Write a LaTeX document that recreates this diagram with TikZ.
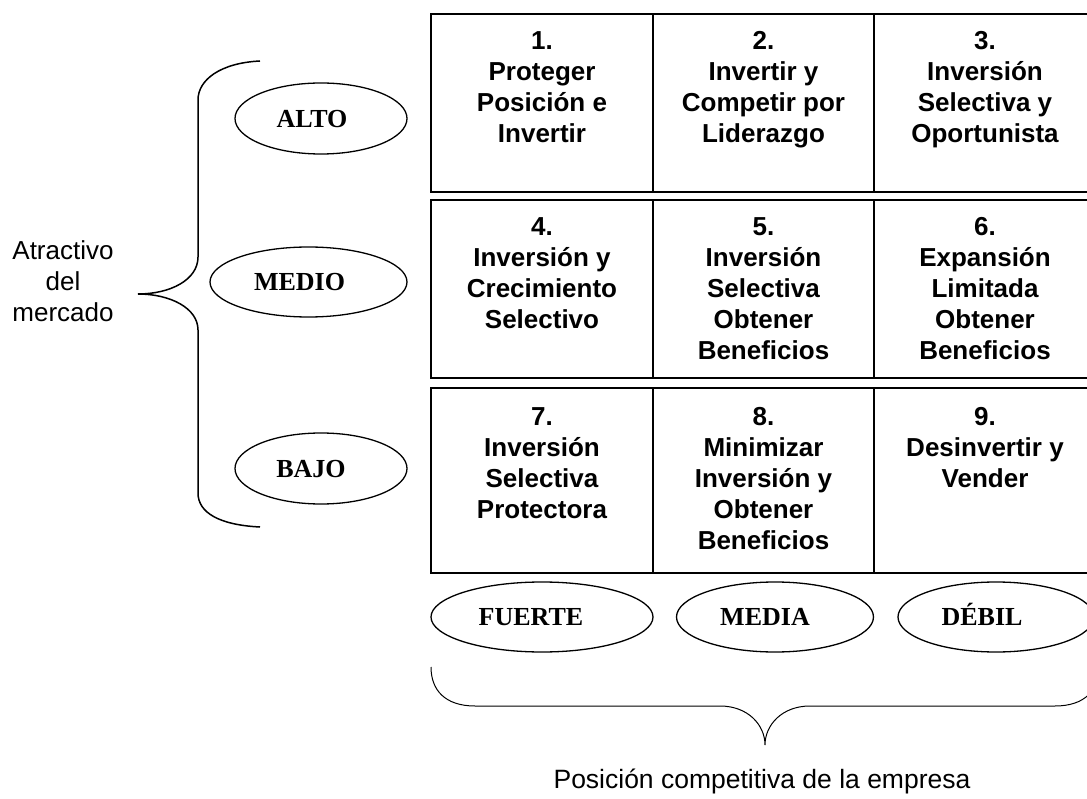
\documentclass[tikz,border=0pt]{standalone}
\usepackage{fontspec}
\setmainfont{Liberation Serif}
\setsansfont{Liberation Sans}
\usetikzlibrary{shapes.geometric}
\begin{document}
\begin{tikzpicture}[x=1pt,y=-1pt,
  cellbox/.style={draw=black, line width=2pt, inner sep=0pt},
  celltext/.style={anchor=north, align=center, inner sep=0pt, font=\sffamily\bfseries\fontsize{26}{31}\selectfont},
  oval/.style={draw=black, line width=1.3pt, ellipse, inner sep=0pt},
  ovaltext/.style={inner sep=0pt, anchor=base, font=\bfseries\fontsize{26}{30}\selectfont},
  sidetext/.style={inner sep=0pt, align=center, font=\sffamily\fontsize{26}{31}\selectfont},
  bracepath/.style={draw=black, line width=1.5pt}
]
\path[use as bounding box] (0,0) rectangle (1087,799);
\clip (0,0) rectangle (1087,799);

% cells
\node[cellbox, minimum width=222pt, minimum height=178pt] (c11) at (542,103) {};
\node[cellbox, minimum width=221pt, minimum height=178pt] (c12) at (763.5,103) {};
\node[cellbox, minimum width=222pt, minimum height=178pt] (c13) at (985,103) {};
\node[cellbox, minimum width=222pt, minimum height=178pt] (c21) at (542,289) {};
\node[cellbox, minimum width=221pt, minimum height=178pt] (c22) at (763.5,289) {};
\node[cellbox, minimum width=222pt, minimum height=178pt] (c23) at (985,289) {};
\node[cellbox, minimum width=222pt, minimum height=185pt] (c31) at (542,480.5) {};
\node[cellbox, minimum width=221pt, minimum height=185pt] (c32) at (763.5,480.5) {};
\node[cellbox, minimum width=222pt, minimum height=185pt] (c33) at (985,480.5) {};

\node[celltext] (t11) at ([yshift=-18pt]c11.north) {1.\\Proteger\\Posición e\\Invertir};
\node[celltext] (t12) at ([yshift=-18pt]c12.north) {2.\\Invertir y\\Competir por\\Liderazgo};
\node[celltext] (t13) at ([yshift=-18pt]c13.north) {3.\\Inversión\\Selectiva y\\Oportunista};
\node[celltext] (t21) at ([yshift=-18pt]c21.north) {4.\\Inversión y\\Crecimiento\\Selectivo};
\node[celltext] (t22) at ([yshift=-18pt]c22.north) {5.\\Inversión\\Selectiva\\Obtener\\Beneficios};
\node[celltext] (t23) at ([yshift=-18pt]c23.north) {6.\\Expansión\\Limitada\\Obtener\\Beneficios};
\node[celltext] (t31) at ([yshift=-20pt]c31.north) {7.\\Inversión\\Selectiva\\Protectora};
\node[celltext] (t32) at ([yshift=-20pt]c32.north) {8.\\Minimizar\\Inversión y\\Obtener\\Beneficios};
\node[celltext] (t33) at ([yshift=-20pt]c33.north) {9.\\Desinvertir y\\Vender};

% left ovals
\node[oval, minimum width=172pt, minimum height=71pt] (alto) at (321,118.5) {};
\node[ovaltext] (altot) at ([xshift=-9pt,yshift=-8.6pt]alto.center) {ALTO};
\node[oval, minimum width=197pt, minimum height=70pt] (medio) at (308.5,282) {};
\node[ovaltext] (mediot) at ([xshift=-9pt,yshift=-8.6pt]medio.center) {MEDIO};
\node[oval, minimum width=172pt, minimum height=71pt] (bajo) at (321,468.5) {};
\node[ovaltext] (bajot) at ([xshift=-10pt,yshift=-8.6pt]bajo.center) {BAJO};

% bottom ovals
\node[oval, minimum width=222pt, minimum height=70pt] (fuerte) at (542,617) {};
\node[ovaltext] (fuertet) at ([xshift=-11pt,yshift=-8.6pt]fuerte.center) {FUERTE};
\node[oval, minimum width=197pt, minimum height=70pt] (media) at (775,617) {};
\node[ovaltext] (mediat) at ([xshift=-10pt,yshift=-8.6pt]media.center) {MEDIA};
\node[oval, minimum width=196pt, minimum height=70pt] (debil) at (996,617) {};
\node[ovaltext] (debilt) at ([xshift=-14pt,yshift=-8.6pt]debil.center) {DÉBIL};

% left brace
\coordinate (lbtop) at (260,61);
\coordinate (lbtip) at (138,294);
\coordinate (lbbot) at (260,527);
\draw[bracepath] (lbtop) .. controls (220,63) and (198,80) .. (198,100) -- (198,257)
  .. controls (198,280) and (170,294) .. (lbtip)
  .. controls (170,294) and (198,308) .. (198,330) -- (198,493)
  .. controls (198,513) and (220,525) .. (lbbot);

% bottom brace
\coordinate (bbl) at (431,667);
\coordinate (bbtip) at (765,745);
\coordinate (bbr) at (1099,667);
\draw[bracepath, line width=1pt] (bbl) .. controls (431,690) and (445,706) .. (475,706) -- (720,706)
  .. controls (748,706) and (765,725) .. (bbtip)
  .. controls (765,725) and (782,706) .. (810,706) -- (1055,706)
  .. controls (1085,706) and (1099,690) .. (bbr);

% side labels
\node[sidetext] (atractivo) at (63,281) {Atractivo\\del\\mercado};
\node[sidetext, font=\sffamily\fontsize{26.5}{30}\selectfont] (posicion) at (762,781) {Posición competitiva de la empresa};
\end{tikzpicture}
\end{document}
